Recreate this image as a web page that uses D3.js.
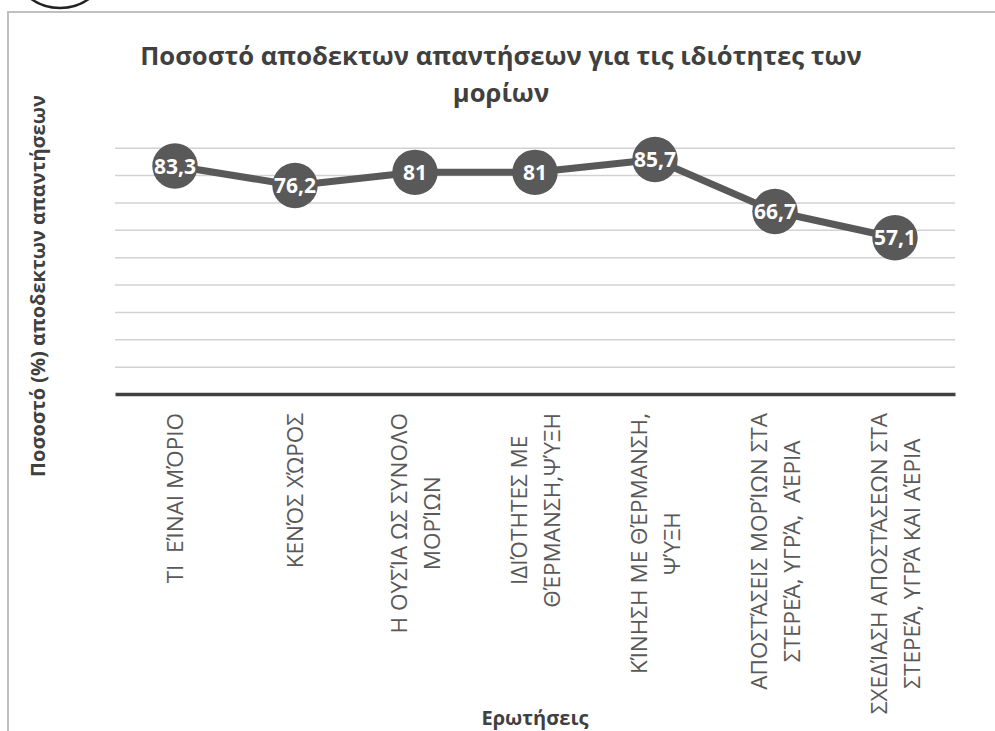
<!DOCTYPE html>
<html>
<head>
  <meta charset="UTF-8"/>
  <title>Ποσοστό αποδεκτων απαντήσεων</title>
  <style>
    body { margin: 0; background: #fff; font-family: 'Open Sans', sans-serif; }
    svg { display: block; }
    .title { font-size: 25.6px; font-weight: bold; fill: #404040; }
    .axis-title { font-size: 20px; font-weight: bold; fill: #404040; }
    .cat { font-size: 22.5px; fill: #595959; }
    .val { font-size: 21px; font-weight: bold; fill: #fff; }
  </style>
  <script src="https://d3js.org/d3.v7.min.js"></script>
</head>
<body>
<svg width="995" height="731"></svg>
<script>
// categories (each entry is the list of lines of the label)
var categories = [
  ["ΤΙ  ΕΊΝΑΙ ΜΌΡΙΟ"],
  ["ΚΕΝΌΣ ΧΏΡΟΣ"],
  ["Η ΟΥΣΊΑ ΩΣ ΣΥΝΟΛΟ", "ΜΟΡΊΩΝ"],
  ["ΙΔΙΌΤΗΤΕΣ ΜΕ", "ΘΈΡΜΑΝΣΗ,ΨΎΞΗ"],
  ["ΚΊΝΗΣΗ ΜΕ ΘΈΡΜΑΝΣΗ,", "ΨΎΞΗ"],
  ["ΑΠΟΣΤΆΣΕΙΣ ΜΟΡΊΩΝ ΣΤΑ", "ΣΤΕΡΕΆ, ΥΓΡΆ,  ΑΈΡΙΑ"],
  ["ΣΧΕΔΊΑΣΗ ΑΠΟΣΤΆΣΕΩΝ ΣΤΑ", "ΣΤΕΡΕΆ, ΥΓΡΆ ΚΑΙ ΑΈΡΙΑ"]
];
var values = [83.3, 76.2, 81, 81, 85.7, 66.7, 57.1];
var gridTicks = [10, 20, 30, 40, 50, 60, 70, 80, 90];
var titleLines = ["Ποσοστό αποδεκτων απαντήσεων για τις ιδιότητες των", "μορίων"];
var yTitle = "Ποσοστό (%) αποδεκτων απαντήσεων";
var xTitle = "Ερωτήσεις";

var svg = d3.select("svg");
var color = "#595959";

// chart frame
svg.append("rect")
  .attr("x", 8).attr("y", 12)
  .attr("width", 1000).attr("height", 730)
  .attr("fill", "#fff")
  .attr("stroke", "#bfbfbf").attr("stroke-width", 2);

// cut-off logo at the very top
svg.append("circle")
  .attr("cx", 60).attr("cy", -42).attr("r", 50)
  .attr("fill", "none").attr("stroke", "#222").attr("stroke-width", 2.5);

var x = d3.scaleBand()
  .domain(d3.range(values.length))
  .range([115, 955]);
var y = d3.scaleLinear().domain([0, 90]).range([394, 147.7]);
var cx = function(i) { return x(i) + x.bandwidth() / 2; };

// gridlines
var grid = svg.append("g")
  .attr("transform", "translate(115,0)")
  .call(d3.axisLeft(y).tickValues(gridTicks).tickSize(-840).tickFormat(""));
grid.select(".domain").remove();
grid.selectAll(".tick line").attr("stroke", "#d2d2d2").attr("stroke-width", 1.5);

// x axis line
var xa = svg.append("g")
  .attr("transform", "translate(0," + y(0) + ")")
  .call(d3.axisBottom(x).tickSize(0).tickFormat(""));
xa.select(".domain").attr("stroke", "#404040").attr("stroke-width", 3.5);

// line
svg.append("path")
  .datum(values)
  .attr("fill", "none")
  .attr("stroke", color)
  .attr("stroke-width", 7)
  .attr("stroke-linejoin", "round")
  .attr("d", d3.line().x(function(d, i) { return cx(i); }).y(function(d) { return y(d); }));

// markers + value labels
var pts = svg.selectAll(".pt").data(values).enter().append("g").attr("class", "pt");
pts.append("circle")
  .attr("cx", function(d, i) { return cx(i); })
  .attr("cy", function(d) { return y(d); })
  .attr("r", 22.7)
  .attr("fill", color);
pts.append("text")
  .attr("class", "val")
  .attr("x", function(d, i) { return cx(i); })
  .attr("y", function(d) { return y(d); })
  .attr("dy", "0.36em")
  .attr("text-anchor", "middle")
  .text(function(d) { return String(d).replace(".", ","); });

// category labels, rotated, block top-aligned under the axis
var lineGap = 33, labelTop = 413;
categories.forEach(function(lines, i) {
  var g = svg.append("g");
  var texts = lines.map(function(s) {
    return g.append("text").attr("class", "cat").attr("text-anchor", "middle")
      .attr("xml:space", "preserve").style("white-space", "pre").text(s);
  });
  var maxLen = d3.max(texts, function(t) { return t.node().getComputedTextLength(); });
  var cy = labelTop + maxLen / 2;
  texts.forEach(function(t, k) {
    var lx = cx(i) + (k - (lines.length - 1) / 2) * lineGap;
    t.attr("transform", "translate(" + lx + "," + cy + ") rotate(-90)")
     .attr("dy", "0.36em");
  });
});

// titles
svg.selectAll(".title").data(titleLines).enter().append("text")
  .attr("class", "title")
  .attr("x", 501)
  .attr("y", function(d, i) { return 65 + i * 37; })
  .attr("text-anchor", "middle")
  .text(function(d) { return d; });

svg.append("text")
  .attr("class", "axis-title")
  .attr("transform", "translate(38,286) rotate(-90)")
  .attr("dy", "0.36em")
  .attr("text-anchor", "middle")
  .text(yTitle);

svg.append("text")
  .attr("class", "axis-title")
  .attr("x", 535).attr("y", 725)
  .attr("text-anchor", "middle")
  .text(xTitle);
</script>
</body>
</html>
